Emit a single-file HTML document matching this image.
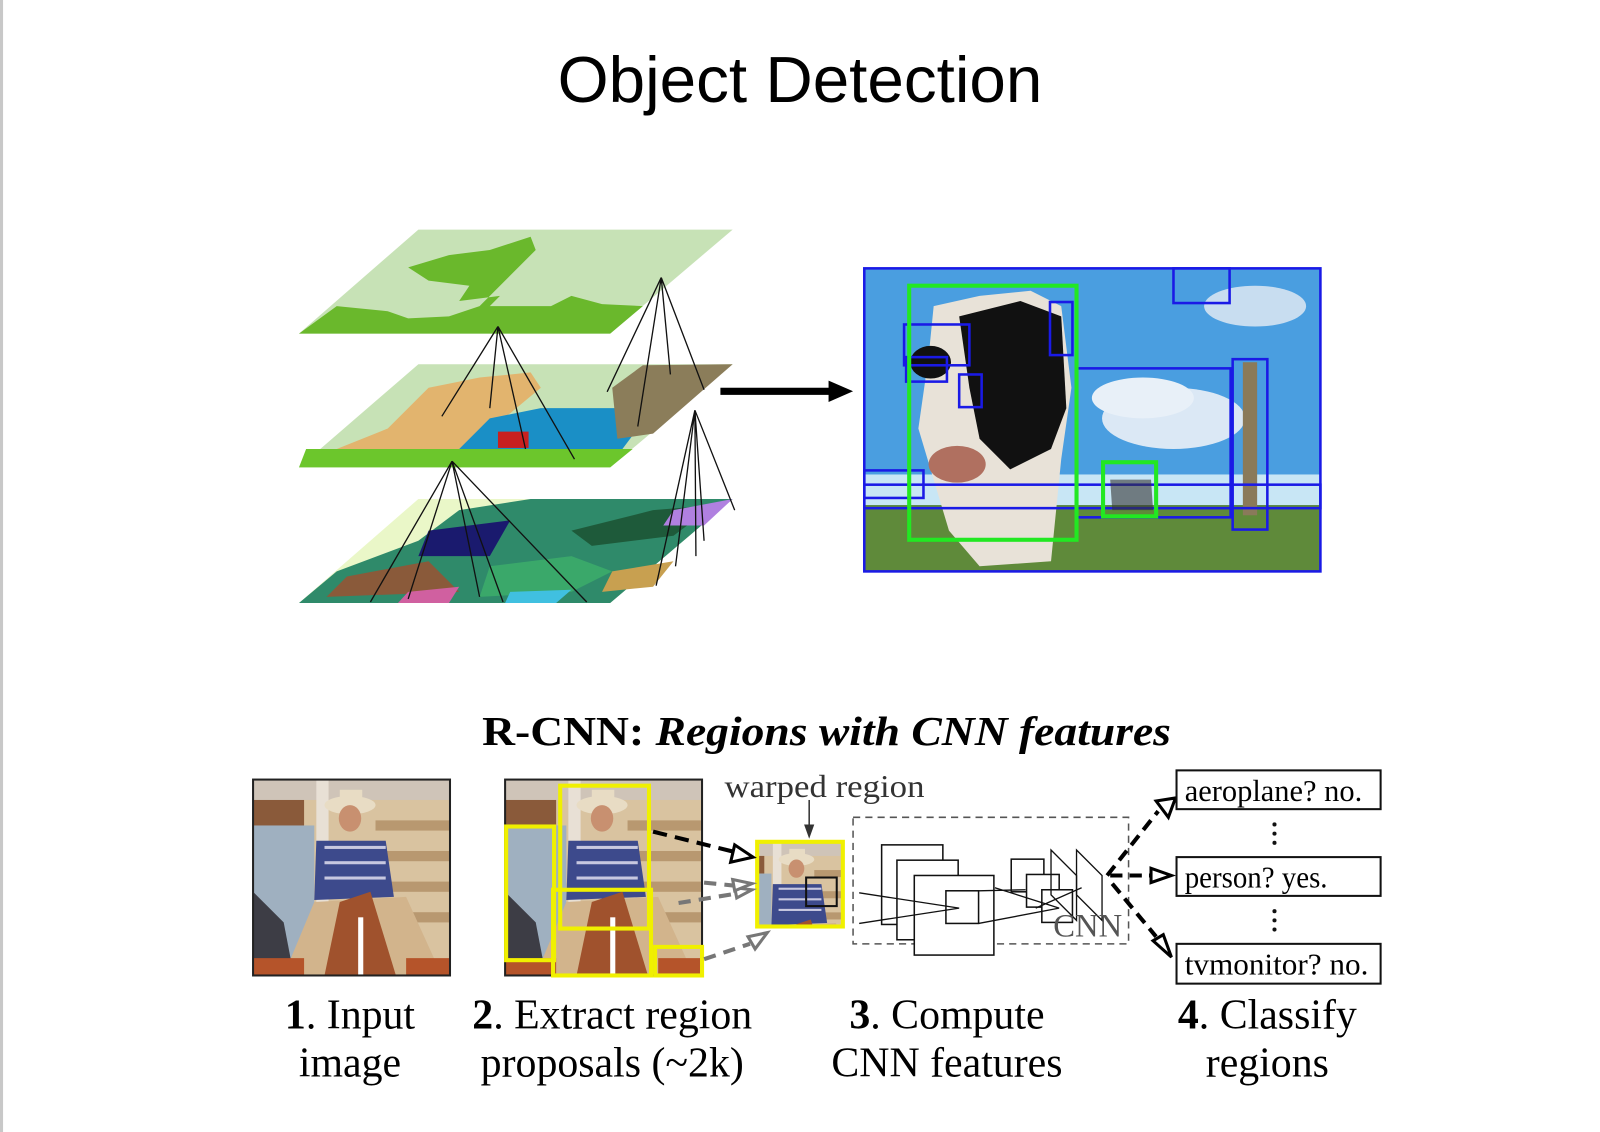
<!DOCTYPE html>
<html><head><meta charset="utf-8">
<style>
html,body{margin:0;padding:0;background:#fff;}
body{width:1600px;height:1132px;overflow:hidden;position:relative;}
svg{position:absolute;left:0;top:0;}
</style></head><body>
<svg width="1600" height="1132" viewBox="0 0 1568 1109.4" preserveAspectRatio="none" xmlns="http://www.w3.org/2000/svg">
<defs>
<g id="cowboy">
  <rect x="0" y="0" width="193" height="192" fill="#d9c3a0"/>
  <rect x="0" y="0" width="193" height="20" fill="#cfc4b8"/>
  <rect x="0" y="20" width="50" height="25" fill="#8a5a3a"/>
  <rect x="0" y="45" width="60" height="147" fill="#9fb0c0"/>
  <rect x="62" y="0" width="12" height="150" fill="#e8e0d5"/>
  <rect x="120" y="40" width="73" height="10" fill="#b89870"/>
  <rect x="120" y="70" width="73" height="10" fill="#b89870"/>
  <rect x="120" y="100" width="73" height="10" fill="#b89870"/>
  <rect x="120" y="130" width="73" height="10" fill="#b89870"/>
  <polygon points="0,110 30,140 40,192 0,192" fill="#3d3d45"/>
  <ellipse cx="95" cy="25" rx="25" ry="9" fill="#e8dcc4"/>
  <rect x="85" y="10" width="22" height="15" fill="#e8dcc4"/>
  <ellipse cx="95" cy="38" rx="11" ry="13" fill="#c89070"/>
  <polygon points="62,60 130,60 138,115 60,118" fill="#3d4a8c"/>
  <rect x="70" y="65" width="60" height="3" fill="#c8c8e0"/>
  <rect x="70" y="80" width="60" height="3" fill="#c8c8e0"/>
  <rect x="70" y="95" width="60" height="3" fill="#c8c8e0"/>
  <polygon points="30,192 60,120 150,115 185,192" fill="#d2b48c"/>
  <polygon points="70,192 85,120 115,110 140,192" fill="#a0522d"/>
  <rect x="103" y="135" width="5" height="57" fill="#fff"/>
  <rect x="0" y="175" width="50" height="17" fill="#b5542a"/>
  <rect x="150" y="175" width="43" height="17" fill="#b5542a"/>
</g>
</defs>
<rect x="0" y="0" width="3" height="1110" fill="#c8c8c8"/>
<text x="784" y="100" text-anchor="middle" font-family="Liberation Sans, sans-serif" font-size="64" textLength="475" lengthAdjust="spacingAndGlyphs" fill="#000">Object Detection</text>

<!-- layers -->
<polygon points="293,327 598,327 718,225 410,225" fill="#c7e2b6"/>
<path d="M293,327 L598,327 L630,300 L590,298 L560,290 L540,300 L480,300 L490,290 L450,295 L460,280 L420,275 L400,262 L440,250 L480,245 L520,232 L525,245 L500,270 L470,300 L440,310 L400,312 L380,305 L330,300 Z" fill="#6ab82c"/>
<polygon points="293,458 598,458 718,357 410,357" fill="#c7e2b6"/>
<path d="M330,440 L380,420 L420,380 L470,370 L520,365 L530,380 L500,405 L450,440 L380,445 Z" fill="#e2b46e"/>
<path d="M450,440 L480,410 L530,400 L600,400 L640,400 L610,440 Z" fill="#1a8fc6"/>
<rect x="488" y="423" width="30" height="16" fill="#c82020"/>
<path d="M600,380 L630,358 L718,357 L640,425 L605,430 Z" fill="#8b7d5a"/>
<path d="M293,458 L598,458 L620,440 L300,440 Z" fill="#6cc62c"/>
<polygon points="293,591 598,591 718,489 410,489" fill="#eaf7c8"/>
<path d="M293,591 L598,591 L718,489 L520,489 L450,500 L410,530 L330,560 Z" fill="#2f8a6a"/>
<path d="M420,520 L500,510 L480,545 L410,545 Z" fill="#1a1a6e"/>
<path d="M340,565 L420,550 L450,580 L320,585 Z" fill="#8a5a3a"/>
<path d="M480,555 L560,545 L600,560 L560,580 L470,585 Z" fill="#3aa86a"/>
<path d="M560,520 L640,500 L700,495 L660,525 L580,535 Z" fill="#1e5a3a"/>
<path d="M600,560 L660,550 L640,575 L590,580 Z" fill="#c8a050"/>
<path d="M660,500 L718,489 L690,515 L650,515 Z" fill="#b080e0"/>
<path d="M400,580 L450,575 L440,591 L390,591 Z" fill="#d060a0"/>
<path d="M500,580 L560,578 L545,591 L495,591 Z" fill="#40c0e0"/>
<g stroke="#111" stroke-width="1.3" fill="none">
<path d="M488,320 L433,408 M488,320 L480,400 M488,320 L515,440 M488,320 L563,450"/>
<path d="M648,272 L595,384 M648,272 L625,418 M648,272 L657,367 M648,272 L690,382"/>
<path d="M443,452 L363,590 M443,452 L400,587 M443,452 L470,585 M443,452 L493,590 M443,452 L575,590"/>
<path d="M681,402 L643,574 M681,402 L662,555 M681,402 L682,545 M681,402 L690,530 M681,402 L720,500"/>
</g>
<!-- arrow -->
<rect x="706" y="380" width="110" height="7" fill="#000"/>
<polygon points="812,373 836,383.5 812,394" fill="#000"/>

<!-- cow image -->
<rect x="847" y="263" width="447" height="297" fill="#4a9ee0"/>
<ellipse cx="1150" cy="410" rx="70" ry="30" fill="#dbe8f5"/>
<ellipse cx="1120" cy="390" rx="50" ry="20" fill="#e8f0f8"/>
<ellipse cx="1230" cy="300" rx="50" ry="20" fill="#c8ddf0"/>
<rect x="847" y="465" width="447" height="30" fill="#c8e6f5"/>
<rect x="847" y="495" width="447" height="65" fill="#5f8a3a"/>
<path d="M915,300 L960,290 L1010,285 L1040,300 L1050,380 L1040,450 L1030,550 L960,555 L930,520 L915,470 L900,420 L910,350 Z" fill="#e8e2d8"/>
<path d="M940,310 L1000,295 L1040,310 L1045,400 L1030,440 L990,460 L960,430 L950,380 Z" fill="#111"/>
<ellipse cx="912" cy="355" rx="20" ry="16" fill="#111"/>
<ellipse cx="938" cy="455" rx="28" ry="18" fill="#b07060"/>
<rect x="1218" y="355" width="14" height="150" fill="#8a7a5a"/>
<g fill="none" stroke="#1a1ae6" stroke-width="2.5">
<rect x="847" y="263" width="447" height="297"/>
<rect x="1130" y="263" width="0" height="215"/>
<rect x="1150" y="263" width="55" height="34"/>
<rect x="1205" y="263" width="0" height="250"/>
<rect x="886" y="318" width="64" height="40"/>
<rect x="888" y="350" width="40" height="24"/>
<rect x="940" y="367" width="22" height="32"/>
<rect x="1029" y="296" width="22" height="52"/>
<rect x="1055" y="361" width="151" height="146"/>
<rect x="1208" y="352" width="34" height="167"/>
<rect x="847" y="461" width="58" height="27"/>
<rect x="847" y="475" width="447" height="23"/>
</g>
<g fill="none" stroke="#22e822" stroke-width="4">
<rect x="891" y="280" width="164" height="249"/>
<rect x="1081" y="453" width="52" height="53"/>
</g>
<path d="M1088,470 L1128,470 L1130,500 L1090,500 Z" fill="#333" opacity="0.6"/>

<!-- R-CNN -->
<text x="810" y="730" text-anchor="middle" font-family="Liberation Serif, serif" font-size="40" font-weight="bold" textLength="675" lengthAdjust="spacingAndGlyphs" fill="#000">R-CNN: <tspan font-style="italic">Regions with CNN features</tspan></text>

<use href="#cowboy" x="248" y="764"/>
<rect x="248" y="764" width="193" height="192" fill="none" stroke="#222" stroke-width="2"/>
<use href="#cowboy" x="495" y="764"/>
<rect x="495" y="764" width="193" height="192" fill="none" stroke="#222" stroke-width="2"/>
<g fill="none" stroke="#f0f000" stroke-width="4">
<rect x="549" y="770" width="87" height="140"/>
<rect x="496" y="810" width="47" height="131"/>
<rect x="542" y="872" width="96" height="84"/>
<rect x="642" y="928" width="46" height="28"/>
</g>
<!-- warped -->
<svg x="742" y="825" width="84" height="83" viewBox="40 0 120 120" preserveAspectRatio="none"><use href="#cowboy"/></svg>
<rect x="742" y="825" width="84" height="83" fill="none" stroke="#f0f000" stroke-width="4"/>
<rect x="790" y="860" width="30" height="28" fill="none" stroke="#111" stroke-width="2"/>
<text x="808" y="781" text-anchor="middle" font-family="Liberation Serif, serif" font-size="31" textLength="196" lengthAdjust="spacingAndGlyphs" fill="#333">warped region</text>
<line x1="793" y1="784" x2="793" y2="812" stroke="#333" stroke-width="1.5"/>
<polygon points="788,808 798,808 793,822" fill="#333"/>
<!-- dashed arrows to warped -->
<path d="M640,815 L720,835" stroke="#000" stroke-width="4" stroke-dasharray="14,8" fill="none"/>
<polygon points="720,828 738,840 716,845" fill="#fff" stroke="#000" stroke-width="3"/>
<g stroke="#777" stroke-width="4" fill="none" stroke-dasharray="12,8">
<path d="M665,885 L720,876"/><path d="M690,865 L720,868"/><path d="M690,940 L735,925"/>
</g>
<polygon points="720,870 737,872 722,880" fill="#fff" stroke="#777" stroke-width="3"/>
<polygon points="718,862 737,866 720,873" fill="#fff" stroke="#777" stroke-width="3"/>
<polygon points="733,918 752,914 740,930" fill="#fff" stroke="#777" stroke-width="3"/>
<!-- CNN box -->
<rect x="836" y="801" width="270" height="124" fill="none" stroke="#555" stroke-width="1.5" stroke-dasharray="7,5"/>
<g fill="#fff" stroke="#111" stroke-width="1.5">
<rect x="864" y="828" width="60" height="78"/>
<rect x="879" y="843" width="60" height="78"/>
<rect x="896" y="858" width="78" height="78"/>
<rect x="927" y="873" width="32" height="32"/>
<rect x="991" y="842" width="32" height="32"/>
<rect x="1006" y="857" width="32" height="32"/>
<rect x="1021" y="872" width="30" height="32"/>
</g>
<g stroke="#111" stroke-width="1.3" fill="none">
<path d="M842,875 L940,890 M842,905 L940,890 M959,873 L1005,872 M959,905 L1038,890 M975,870 L1038,890 M1015,890 L1060,870"/>
<polygon points="1050,843 1075,868 1075,912 1050,887" transform="translate(-20,-10)"/>
<polygon points="1050,843 1075,868 1075,912 1050,887" transform="translate(5,-10)"/>
</g>
<text x="1066" y="918" text-anchor="middle" font-family="Liberation Serif, serif" font-size="32" fill="#555">CNN</text>
<!-- classify arrows -->
<g stroke="#000" stroke-width="4" fill="none" stroke-dasharray="12,7">
<path d="M1085,858 L1135,795"/><path d="M1088,858 L1128,858"/><path d="M1090,866 L1133,918"/>
</g>
<polygon points="1133,785 1152,782 1145,801" fill="#fff" stroke="#000" stroke-width="3"/>
<polygon points="1128,851 1148,858 1128,865" fill="#fff" stroke="#000" stroke-width="3"/>
<polygon points="1130,922 1148,938 1140,916" fill="#fff" stroke="#000" stroke-width="3"/>
<g fill="#fff" stroke="#111" stroke-width="2">
<rect x="1153" y="755" width="200" height="38"/>
<rect x="1153" y="840" width="200" height="38"/>
<rect x="1153" y="925" width="200" height="39"/>
</g>
<g font-family="Liberation Serif, serif" font-size="30" fill="#000">
<text x="1161" y="785" textLength="174" lengthAdjust="spacingAndGlyphs">aeroplane? no.</text>
<text x="1161" y="870" textLength="140" lengthAdjust="spacingAndGlyphs">person? yes.</text>
<text x="1161" y="955" textLength="180" lengthAdjust="spacingAndGlyphs">tvmonitor? no.</text>
</g>
<g fill="#111"><circle cx="1249" cy="808" r="2"/><circle cx="1249" cy="817" r="2"/><circle cx="1249" cy="826" r="2"/>
<circle cx="1249" cy="893" r="2"/><circle cx="1249" cy="902" r="2"/><circle cx="1249" cy="911" r="2"/></g>
<g font-family="Liberation Serif, serif" font-size="41" fill="#000" text-anchor="middle">
<text x="343" y="1008"><tspan font-weight="bold">1</tspan>. Input</text>
<text x="343" y="1055">image</text>
<text x="600" y="1008"><tspan font-weight="bold">2</tspan>. Extract region</text>
<text x="600" y="1055">proposals (~2k)</text>
<text x="928" y="1008"><tspan font-weight="bold">3</tspan>. Compute</text>
<text x="928" y="1055">CNN features</text>
<text x="1242" y="1008"><tspan font-weight="bold">4</tspan>. Classify</text>
<text x="1242" y="1055">regions</text>
</g>
</svg>
</body></html>
